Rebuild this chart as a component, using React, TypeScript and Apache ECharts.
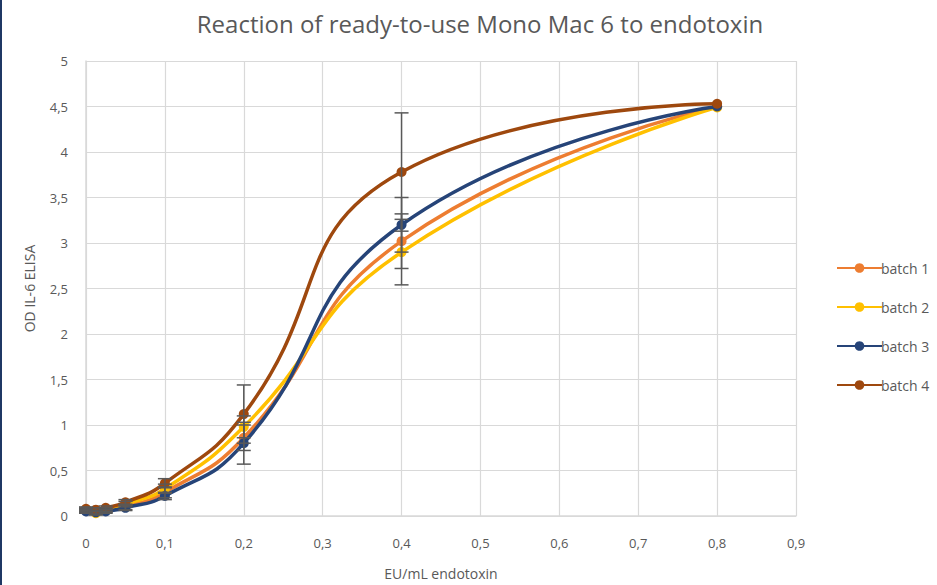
import React, { useEffect, useRef } from "react";
import * as echarts from "echarts";

const xValues = [0, 0.0125, 0.025, 0.05, 0.1, 0.2, 0.4, 0.8];
const seriesNames = ["batch 1", "batch 2", "batch 3", "batch 4"];
const batch1 = [0.06, 0.04, 0.06, 0.1, 0.26, 0.86, 3.02, 4.5];
const batch2 = [0.07, 0.03, 0.07, 0.13, 0.3, 0.98, 2.9, 4.49];
const batch3 = [0.05, 0.04, 0.05, 0.09, 0.22, 0.8, 3.2, 4.5];
const batch4 = [0.08, 0.07, 0.09, 0.15, 0.36, 1.12, 3.78, 4.53];
const err1 = [0.02, 0.02, 0.02, 0.03, 0.06, 0.14, 0.3, 0];
const err2 = [0.02, 0.02, 0.02, 0.03, 0.05, 0.12, 0.36, 0];
const err3 = [0.02, 0.02, 0.02, 0.03, 0.04, 0.23, 0.3, 0];
const err4 = [0.02, 0.02, 0.02, 0.03, 0.05, 0.32, 0.65, 0];
const colors = ["#ED7D31", "#FFC000", "#264478", "#9E480E"];
const xTicks = [0, 0.1, 0.2, 0.3, 0.4, 0.5, 0.6, 0.7, 0.8, 0.9];
const yTicks = [0, 0.5, 1, 1.5, 2, 2.5, 3, 3.5, 4, 4.5, 5];

const FONT = "Open Sans";
const GREY = "#595959";

export default function App() {
  const ref = useRef<HTMLDivElement>(null);
  useEffect(() => {
    if (!ref.current) return;
    const chart = echarts.init(ref.current, undefined, { renderer: "svg" });
    const all = [batch1, batch2, batch3, batch4];
    const errs = [err1, err2, err3, err4];
    const fmt = (v: number) => String(Math.round(v * 10) / 10).replace(".", ",");
    const lineSeries = all.map((vals, i) => ({
      name: seriesNames[i],
      type: "line",
      smooth: 0.5,
      data: xValues.map((x, j) => [x, vals[j]]),
      symbol: "circle",
      symbolSize: 10,
      lineStyle: { width: 3.5, color: colors[i] },
      itemStyle: { color: colors[i] },
      z: 2 + i,
    }));
    const errData: number[][] = [];
    all.forEach((vals, i) => {
      xValues.forEach((x, j) => {
        if (errs[i][j] > 0) errData.push([x, vals[j] - errs[i][j], vals[j] + errs[i][j]]);
      });
    });
    const errSeries = {
      type: "custom",
      name: "err",
      z: 10,
      data: errData,
      renderItem: (params: any, api: any) => {
        const x = api.value(0);
        const lo = api.coord([x, api.value(1)]);
        const hi = api.coord([x, api.value(2)]);
        const hw = 7;
        const style = { stroke: "#595959", lineWidth: 1.5 };
        return {
          type: "group",
          children: [
            { type: "line", shape: { x1: lo[0], y1: lo[1], x2: hi[0], y2: hi[1] }, style },
            { type: "line", shape: { x1: lo[0] - hw, y1: lo[1], x2: lo[0] + hw, y2: lo[1] }, style },
            { type: "line", shape: { x1: hi[0] - hw, y1: hi[1], x2: hi[0] + hw, y2: hi[1] }, style },
          ],
        };
      },
    };
    chart.setOption({
      animation: false,
      backgroundColor: "#ffffff",
      textStyle: { fontFamily: FONT },
      title: {
        text: "Reaction of ready-to-use Mono Mac 6 to endotoxin",
        left: 475,
        textAlign: "center",
        top: 6,
        textStyle: { fontFamily: FONT, fontSize: 24, fontWeight: "normal", color: GREY },
      },
      graphic: [
        { type: "rect", shape: { x: 0, y: 0, width: 2, height: 585 }, style: { fill: "#1F3864" } },
      ],
      legend: {
        data: seriesNames,
        orient: "vertical",
        left: 831,
        top: 256,
        itemWidth: 45,
        itemHeight: 12,
        itemGap: 25,
        textStyle: { fontFamily: FONT, fontSize: 14, color: GREY, padding: [0, 0, 0, -6] },
      },
      grid: { left: 86, right: 141, top: 61, bottom: 66, containLabel: false },
      xAxis: {
        type: "value",
        min: 0,
        max: 0.9,
        interval: 0.1,
        name: "EU/mL endotoxin",
        nameLocation: "middle",
        nameGap: 50,
        nameTextStyle: { fontFamily: FONT, fontSize: 14, color: GREY },
        axisLine: { show: true, lineStyle: { color: "#D9D9D9", width: 1.5 } },
        axisTick: { show: false },
        axisLabel: { fontFamily: FONT, fontSize: 13, color: GREY, margin: 20, formatter: (v: number) => fmt(v), customValues: xTicks },
        splitLine: { show: true, lineStyle: { color: "#D9D9D9", width: 1.2 } },
      },
      yAxis: {
        type: "value",
        min: 0,
        max: 5,
        interval: 0.5,
        name: "OD IL-6 ELISA",
        nameLocation: "middle",
        nameGap: 50,
        nameRotate: 90,
        nameTextStyle: { fontFamily: FONT, fontSize: 14, color: GREY },
        axisLine: { show: true, lineStyle: { color: "#D9D9D9", width: 1.5 } },
        axisTick: { show: false },
        axisLabel: { fontFamily: FONT, fontSize: 13, color: GREY, margin: 18, formatter: (v: number) => fmt(v), customValues: yTicks },
        splitLine: { show: true, lineStyle: { color: "#D9D9D9", width: 1.2 } },
      },
      series: [...lineSeries, errSeries],
    });
    return () => chart.dispose();
  }, []);
  return (
    <div
      ref={ref}
      style={{ position: "fixed", left: 0, top: 0, width: 937, height: 585, background: "#fff" }}
    />
  );
}
